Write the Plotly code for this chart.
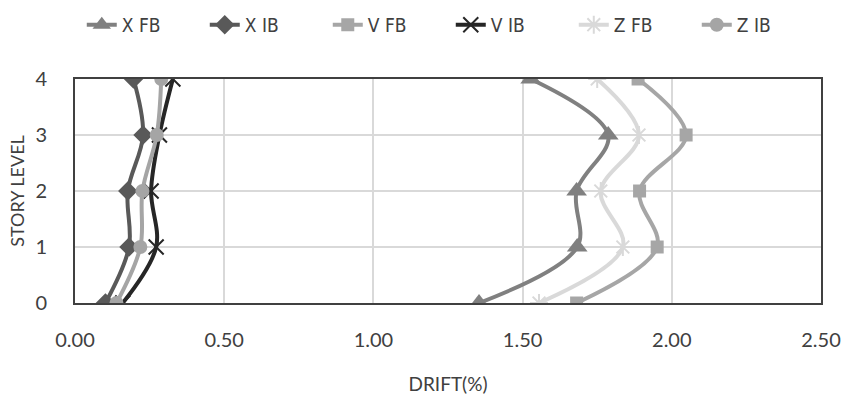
import plotly.graph_objects as go

levels = [0, 1, 2, 3, 4]
x_fb = [1.354, 1.683, 1.681, 1.787, 1.527]
x_ib = [0.102, 0.181, 0.177, 0.228, 0.196]
v_fb = [1.681, 1.951, 1.892, 2.048, 1.887]
v_ib = [0.160, 0.272, 0.255, 0.283, 0.328]
z_fb = [1.555, 1.836, 1.762, 1.890, 1.750]
z_ib = [0.139, 0.219, 0.226, 0.274, 0.289]

series = [
    ("X FB", x_fb, "#808080", "triangle-up", None, 18),
    ("X IB", x_ib, "#595959", "diamond", None, 15),
    ("V FB", v_fb, "#A6A6A6", "square", None, 13),
    ("V IB", v_ib, "#262626", "x-thin-open", 2, 15),
    ("Z FB", z_fb, "#D9D9D9", "asterisk-open", 2, 15),
    ("Z IB", z_ib, "#A5A5A5", "circle", None, 14),
]

fig = go.Figure()
for name, xs, color, sym, mlw, msize in series:
    marker = dict(symbol=sym, size=msize, color=color)
    if mlw:
        marker["line"] = dict(color=color, width=mlw)
    fig.add_trace(go.Scatter(
        x=xs, y=levels, name=name, mode="lines+markers",
        line=dict(color=color, width=4, shape="spline", smoothing=1),
        marker=marker,
    ))

fig.update_layout(
    width=843, height=401,
    margin=dict(l=75, r=22, t=79, b=98, autoexpand=False),
    paper_bgcolor="white", plot_bgcolor="white",
    font=dict(family="Lato, sans-serif", size=20, color="#404040"),
    legend=dict(orientation="h", xref="container", yref="container",
                x=0.097, xanchor="left", y=0.938, yanchor="middle",
                font=dict(family="DejaVu Sans Condensed, DejaVu Sans, sans-serif", size=19, color="#404040"),
                entrywidth=78, tracegroupgap=0, bgcolor="rgba(0,0,0,0)"),
    xaxis=dict(range=[0, 2.5], dtick=0.5, tickformat=".2f",
               showgrid=True, gridcolor="#D9D9D9", gridwidth=1.5,
               showline=True, linecolor="#404040", linewidth=2, mirror=True,
               zeroline=False, ticks="", ticklabelstandoff=18,
               title=dict(text="DRIFT(%)", standoff=28, font=dict(size=19))),
    yaxis=dict(range=[0, 4], dtick=1,
               showgrid=True, gridcolor="#D9D9D9", gridwidth=1.5,
               showline=True, linecolor="#404040", linewidth=2, mirror=True,
               zeroline=False, ticks="", ticklabelstandoff=22,
               title=dict(text="STORY LEVEL", standoff=6, font=dict(size=18))),
)

fig.write_html("out.html", config={"displayModeBar": False},
               post_script="document.body.style.margin='0px';")
